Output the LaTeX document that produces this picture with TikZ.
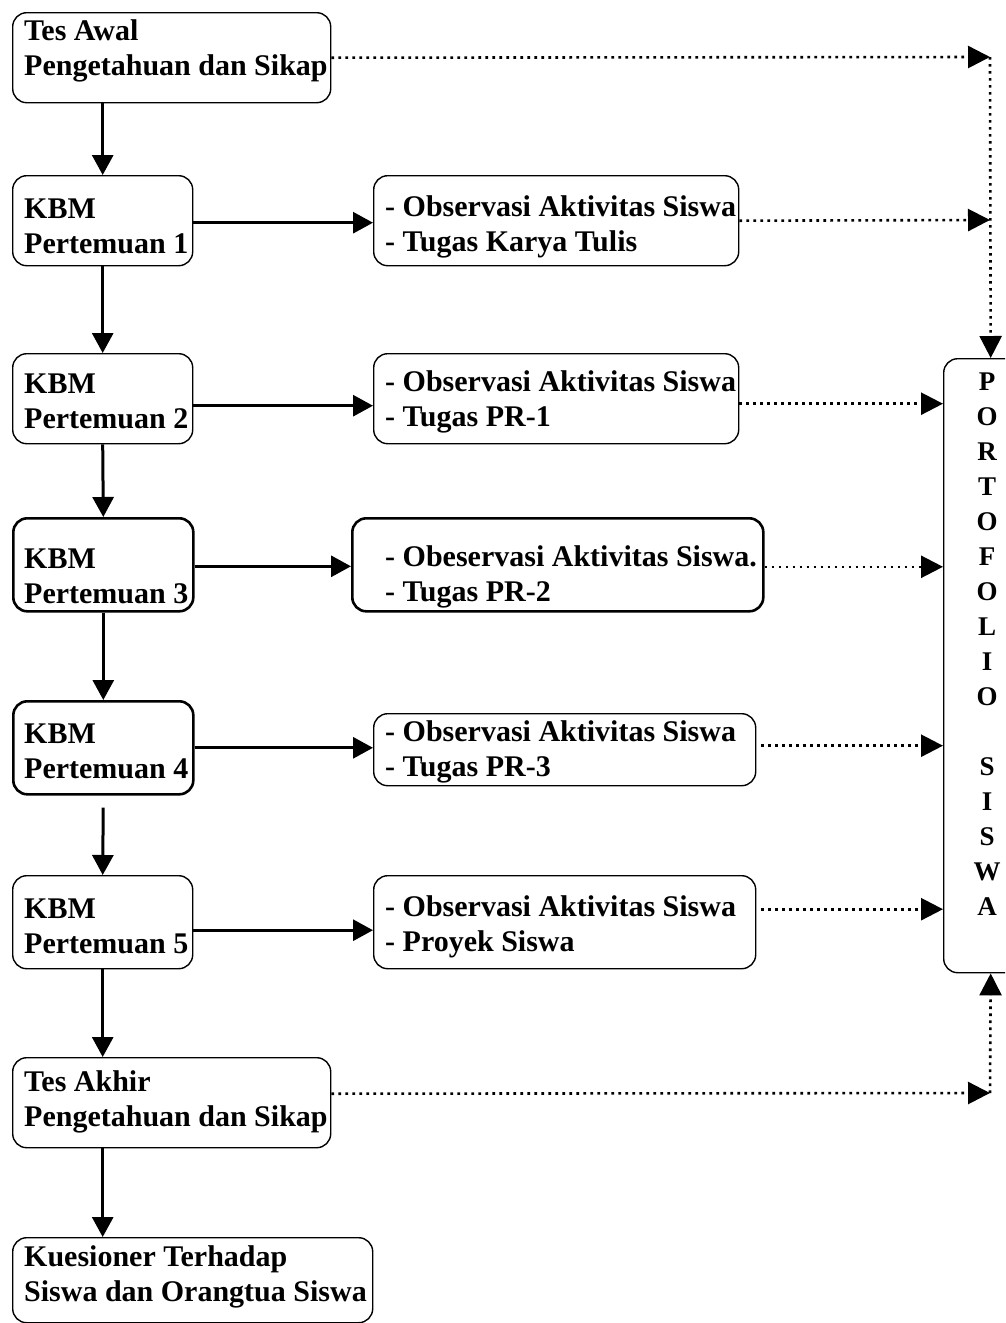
\documentclass[tikz,border=0pt]{standalone}
\usepackage{fontspec}
\setmainfont{Liberation Serif}
\usetikzlibrary{arrows.meta}
\begin{document}
\begin{tikzpicture}[x=1pt,y=-1pt,
  box/.style={draw, rounded corners=14pt, line width=1.4pt, inner sep=0pt, anchor=north west},
  thickbox/.style={box, line width=2.6pt},
  txt/.style={anchor=west, inner sep=0pt, align=left, font=\fontsize{30}{35}\selectfont\bfseries},
  plet/.style={inner sep=0pt, align=center, font=\fontsize{27}{35}\selectfont\bfseries},
  arr/.style={line width=3pt, -{Triangle[length=20pt,width=21pt]}},
  dotarr/.style={line width=2.6pt, dash pattern=on 2.6pt off 4.4pt, -{Triangle[length=22pt,width=22pt]}}]
\useasboundingbox (0,0) rectangle (1005,1323);
\clip (0,0) rectangle (1005,1323);
% boxes
\node[box, minimum width=318pt, minimum height=90pt] (ta) at (12,12) {};
\node[box, minimum width=180pt, minimum height=90pt] (k1) at (12,175) {};
\node[box, minimum width=365pt, minimum height=90pt] (o1) at (373,175) {};
\node[box, minimum width=180pt, minimum height=90pt] (k2) at (12,353) {};
\node[box, minimum width=365pt, minimum height=90pt] (o2) at (373,353) {};
\node[thickbox, minimum width=180pt, minimum height=93pt] (k3) at (12,517) {};
\node[thickbox, minimum width=411pt, minimum height=93pt] (o3) at (351,517) {};
\node[thickbox, minimum width=180pt, minimum height=93pt] (k4) at (12,700) {};
\node[box, minimum width=382pt, minimum height=72pt] (o4) at (373,713) {};
\node[box, minimum width=180pt, minimum height=93pt] (k5) at (12,875) {};
\node[box, minimum width=382pt, minimum height=93pt] (o5) at (373,875) {};
\node[box, minimum width=318pt, minimum height=90pt] (tk) at (12,1057) {};
\node[box, minimum width=360pt, minimum height=85pt] (ku) at (12,1237) {};
\node[box, minimum width=94pt, minimum height=614pt] (port) at (943,358) {};
% texts
\node[txt] (tat) at (24,50.5) {Tes Awal\\Pengetahuan dan Sikap};
\node[txt] (k1t) at (24,226.5) {KBM\\Pertemuan 1};
\node[txt] (o1t) at (385,226.5) {- Observasi Aktivitas Siswa\\- Tugas Karya Tulis};
\node[txt] (k2t) at (24,401.5) {KBM\\Pertemuan 2};
\node[txt] (o2t) at (385,401.5) {- Observasi Aktivitas Siswa\\- Tugas PR-1};
\node[txt] (k3t) at (24,576.5) {KBM\\Pertemuan 3};
\node[txt] (o3t) at (385,576.5) {- Obeservasi Aktivitas Siswa.\\- Tugas PR-2};
\node[txt] (k4t) at (24,751.5) {KBM\\Pertemuan 4};
\node[txt] (o4t) at (385,751.5) {- Observasi Aktivitas Siswa\\- Tugas PR-3};
\node[txt] (k5t) at (24,926.5) {KBM\\Pertemuan 5};
\node[txt] (o5t) at (385,926.5) {- Observasi Aktivitas Siswa\\- Proyek Siswa};
\node[txt] (tkt) at (24,1101.5) {Tes Akhir\\Pengetahuan dan Sikap};
\node[txt] (kut) at (24,1276.5) {Kuesioner Terhadap\\Siswa dan Orangtua Siswa};
\node[plet] (pt) at (987,644.5) {P\\O\\R\\T\\O\\F\\O\\L\\I\\O\\[35pt]S\\I\\S\\W\\A};
% junction points on the right
\coordinate (c1) at (990,57);
\coordinate (c2) at (990,220);
\coordinate (c3) at (990,1093);
% vertical solid arrows
\draw[arr] (k1.north |- ta.south) -- (k1.north);
\draw[arr] (k1.south) -- (k2.north);
\draw[arr] (k2.south) -- (k3.north);
\draw[arr] (k3.south) -- (k4.north);
\draw[arr, shorten <=12pt] (k4.south) -- (k5.north);
\draw[arr] (k5.south) -- (k5.south |- tk.north);
\draw[arr] (k5.south |- tk.south) -- (k5.south |- ku.north);
% horizontal solid arrows
\draw[arr] ([yshift=-2pt]k1.east) -- ([yshift=-2pt]o1.west);
\draw[arr] ([yshift=-7pt]k2.east) -- ([yshift=-7pt]o2.west);
\draw[arr] ([yshift=-1.5pt]k3.east) -- ([yshift=-1.5pt]o3.west);
\draw[arr] (k4.east) -- (k4.east -| o4.west);
\draw[arr] ([yshift=-8pt]k5.east) -- ([yshift=-8pt]o5.west);
% dotted arrows
\draw[dotarr] (ta.east) -- (c1);
\draw[dotarr] (c1) -- (port.north);
\draw[dotarr] (o1.east) -- (c2);
\draw[dotarr] ([yshift=-5pt]o2.east) -- ([yshift=-5pt]o2.east -| port.west);
\draw[dotarr] ([yshift=-2pt]o3.east) -- ([yshift=-2pt]o3.east -| port.west);
\draw[dotarr] ([xshift=5pt,yshift=4pt]o4.east) -- ([yshift=4pt]o4.east -| port.west);
\draw[dotarr] ([xshift=5pt,yshift=13pt]o5.east) -- ([yshift=13pt]o5.east -| port.west);
\draw[dotarr] ([yshift=9pt]tk.east) -- (c3);
\draw[dotarr] (c3) -- (port.south);
\end{tikzpicture}
\end{document}
